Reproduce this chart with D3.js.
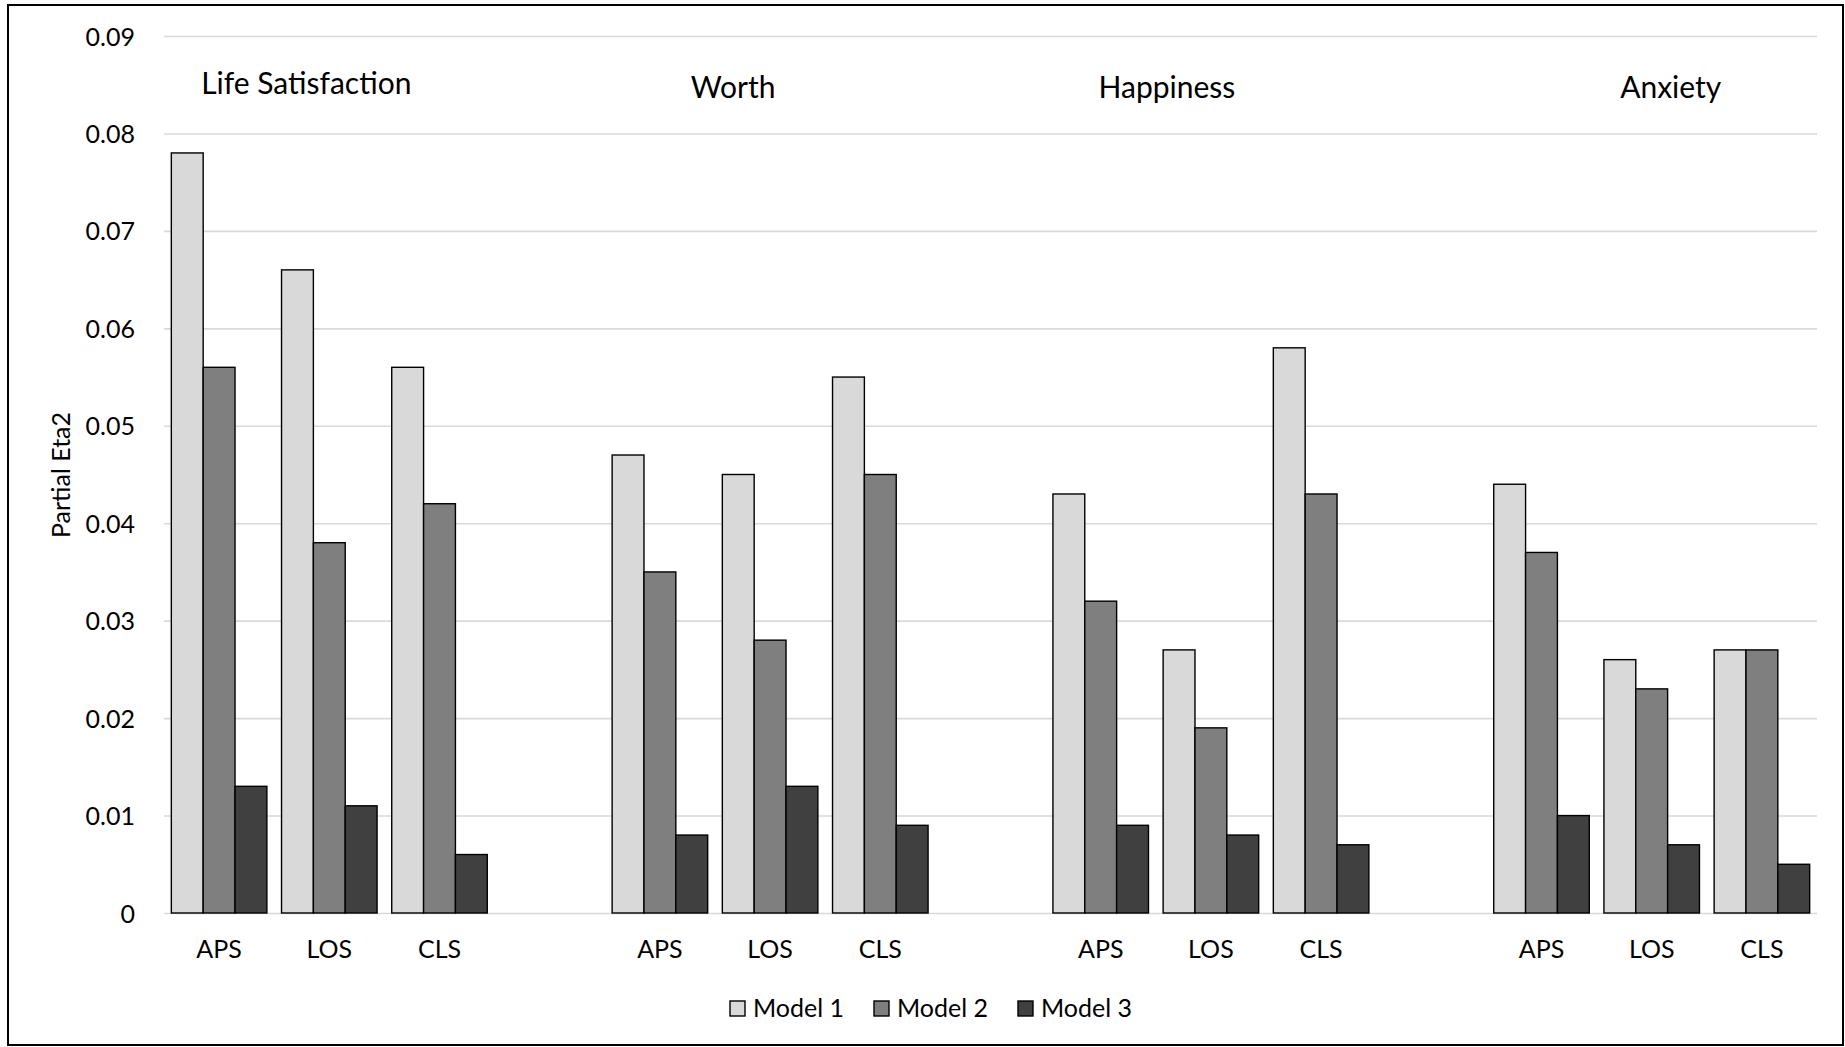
<!DOCTYPE html>
<html>
<head>
<meta charset="utf-8">
<script src="https://cdn.jsdelivr.net/npm/d3@7"></script>
<style>
  html, body { margin: 0; padding: 0; background: #fff; }
  svg { display: block; font-family: Lato, "Liberation Sans", sans-serif; }
</style>
</head>
<body>
<svg id="chart" width="1845" height="1047"></svg>
<script>
// ---- data ----
const groups = ["Life Satisfaction", "Worth", "Happiness", "Anxiety"];
const measures = ["APS", "LOS", "CLS"];
const seriesNames = ["Model 1", "Model 2", "Model 3"];
// values in order: group x measure (LS APS, LS LOS, LS CLS, Worth APS, ...)
const model1 = [0.078, 0.066, 0.056, 0.047, 0.045, 0.055, 0.043, 0.027, 0.058, 0.044, 0.026, 0.027];
const model2 = [0.056, 0.038, 0.042, 0.035, 0.028, 0.045, 0.032, 0.019, 0.043, 0.037, 0.023, 0.027];
const model3 = [0.013, 0.011, 0.006, 0.008, 0.013, 0.009, 0.009, 0.008, 0.007, 0.010, 0.007, 0.005];
const yTicks = [0, 0.01, 0.02, 0.03, 0.04, 0.05, 0.06, 0.07, 0.08, 0.09];
const yTickLabels = ["0", "0.01", "0.02", "0.03", "0.04", "0.05", "0.06", "0.07", "0.08", "0.09"];
const yTitle = "Partial Eta2";

// ---- layout ----
const colors = ["#d9d9d9", "#7f7f7f", "#404040"];
const plot = { left: 164, right: 1817, top: 36, bottom: 913 };
const titleDx = [-23, -37, -44, 19];   // offset of group titles from middle category
const titleY = [94, 98, 98, 98];       // baselines of group titles
const fontTick = 25, fontTitle = 30;

const svg = d3.select("#chart");

// outer frame
svg.append("rect").attr("x", 8).attr("y", 5).attr("width", 1835).attr("height", 1040)
  .attr("fill", "none").attr("stroke", "#000").attr("stroke-width", 2);

// slot keys: 3 categories per group + an empty slot between groups
const slots = [];
groups.forEach((g, gi) => {
  measures.forEach(m => slots.push(g + "|" + m));
  if (gi < groups.length - 1) slots.push("gap" + gi);
});

const x = d3.scaleBand().domain(slots).range([plot.left, plot.right])
  .paddingInner(0.133).paddingOuter(0.0665);
const xs = d3.scaleBand().domain(seriesNames).range([0, x.bandwidth()]).padding(0);
const y = d3.scaleLinear().domain([0, 0.09]).range([plot.bottom, plot.top]);

// gridlines + y labels
const yAxis = d3.axisLeft(y).tickValues(yTicks)
  .tickFormat((d, i) => yTickLabels[i])
  .tickSize(-(plot.right - plot.left)).tickPadding(29);
const yg = svg.append("g").attr("transform", `translate(${plot.left},0)`).call(yAxis);
yg.select(".domain").remove();
yg.selectAll(".tick line").attr("stroke", "#d9d9d9").attr("stroke-width", 1.6);
yg.selectAll(".tick text").attr("font-size", fontTick).attr("fill", "#000")
  .attr("font-family", "Lato, sans-serif").attr("dy", "0.36em");

// bars
const rows = [];
groups.forEach((g, gi) => measures.forEach((m, mi) => {
  const idx = gi * 3 + mi;
  const vals = [model1[idx], model2[idx], model3[idx]];
  rows.push({ key: g + "|" + m, vals });
}));

const cat = svg.append("g").selectAll("g").data(rows).join("g")
  .attr("transform", d => `translate(${x(d.key)},0)`);
cat.selectAll("rect").data(d => d.vals.map((v, i) => ({ v, s: seriesNames[i], i })))
  .join("rect")
  .attr("x", d => xs(d.s))
  .attr("y", d => y(d.v))
  .attr("width", xs.bandwidth())
  .attr("height", d => y(0) - y(d.v))
  .attr("fill", d => colors[d.i])
  .attr("stroke", "#000").attr("stroke-width", 1.4);

// category labels
const xAxis = d3.axisBottom(x).tickValues(slots.filter(s => !s.startsWith("gap")))
  .tickFormat(d => d.split("|")[1]).tickSize(0).tickPadding(0);
const xg = svg.append("g").attr("transform", `translate(0,${plot.bottom})`).call(xAxis);
xg.select(".domain").remove();
xg.selectAll(".tick text").attr("font-size", fontTick).attr("fill", "#000")
  .attr("font-family", "Lato, sans-serif").attr("dy", 0).attr("y", 45);

// group titles
svg.append("g").selectAll("text").data(groups).join("text")
  .attr("x", (g, i) => x(g + "|LOS") + x.bandwidth() / 2 + titleDx[i])
  .attr("y", (g, i) => titleY[i])
  .attr("text-anchor", "middle").attr("font-size", fontTitle).attr("fill", "#000")
  .text(g => g);

// y title
svg.append("text").attr("transform", "translate(70,475) rotate(-90)")
  .attr("text-anchor", "middle").attr("font-size", fontTick).attr("fill", "#000")
  .text(yTitle);

// legend
const legX = [730, 874, 1018];
const leg = svg.append("g").selectAll("g").data(seriesNames).join("g")
  .attr("transform", (d, i) => `translate(${legX[i]},1001)`);
leg.append("rect").attr("width", 15).attr("height", 15)
  .attr("fill", (d, i) => colors[i]).attr("stroke", "#000").attr("stroke-width", 1.4);
leg.append("text").attr("x", 23).attr("y", 16).attr("font-size", fontTick).attr("fill", "#000")
  .text(d => d);
</script>
</body>
</html>
